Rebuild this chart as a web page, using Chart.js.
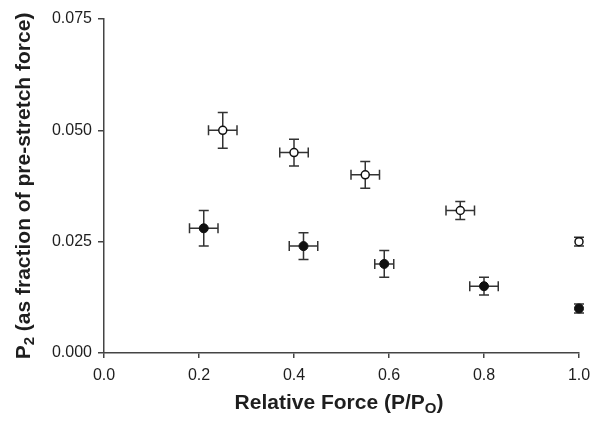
<!DOCTYPE html>
<html>
<head>
<meta charset="utf-8">
<script src="https://cdn.jsdelivr.net/npm/chart.js@4.4.1/dist/chart.umd.min.js"></script>
<style>
  html, body { margin: 0; padding: 0; background: #fff; }
  #wrap { width: 600px; height: 421px; }
</style>
</head>
<body>
<div id="wrap"><canvas id="forceChart"></canvas></div>
<script>
// open circles
const xOpen = [0.25, 0.40, 0.55, 0.75, 1.00];
const yOpen = [0.050, 0.045, 0.040, 0.032, 0.025];
const xErrOpen = [0.03, 0.03, 0.03, 0.03, 0];
const yErrOpen = [0.004, 0.003, 0.003, 0.002, 0.001];
// filled circles
const xFilled = [0.21, 0.42, 0.59, 0.80, 1.00];
const yFilled = [0.028, 0.024, 0.020, 0.015, 0.010];
const xErrFilled = [0.03, 0.03, 0.02, 0.03, 0];
const yErrFilled = [0.004, 0.003, 0.003, 0.002, 0.001];

const xTicks = [0.0, 0.2, 0.4, 0.6, 0.8, 1.0];
const yTicks = [0.000, 0.025, 0.050, 0.075];

const FONT = '"Liberation Sans", Arial, sans-serif';
const INK = '#1e1e1e';

function toPoints(xs, ys, xe, ye) {
    return xs.map((x, i) => ({ x: x, y: ys[i], xErr: xe[i], yErr: ye[i] }));
}

// error bars, drawn under the markers
const errorBars = {
    id: 'errorBars',
    beforeDatasetsDraw(chart) {
        const ctx = chart.ctx;
        const xs = chart.scales.x, ys = chart.scales.y;
        const cap = 5;
        ctx.save();
        ctx.strokeStyle = '#333';
        ctx.lineWidth = 1.5;
        chart.data.datasets.forEach(ds => {
            ds.data.forEach(p => {
                const cx = xs.getPixelForValue(p.x), cy = ys.getPixelForValue(p.y);
                ctx.beginPath();
                if (p.yErr) {
                    const t = ys.getPixelForValue(p.y + p.yErr), b = ys.getPixelForValue(p.y - p.yErr);
                    ctx.moveTo(cx, t); ctx.lineTo(cx, b);
                    ctx.moveTo(cx - cap, t); ctx.lineTo(cx + cap, t);
                    ctx.moveTo(cx - cap, b); ctx.lineTo(cx + cap, b);
                }
                if (p.xErr) {
                    const l = xs.getPixelForValue(p.x - p.xErr), r = xs.getPixelForValue(p.x + p.xErr);
                    ctx.moveTo(l, cy); ctx.lineTo(r, cy);
                    ctx.moveTo(l, cy - cap); ctx.lineTo(l, cy + cap);
                    ctx.moveTo(r, cy - cap); ctx.lineTo(r, cy + cap);
                }
                ctx.stroke();
            });
        });
        ctx.restore();
    }
};

// axis titles with subscripts
function drawParts(ctx, parts, x, y, size) {
    const big = 'bold ' + size + 'px ' + FONT;
    const small = 'bold ' + Math.round(size * 0.7) + 'px ' + FONT;
    let w = 0;
    parts.forEach(p => { ctx.font = p.sub ? small : big; w += ctx.measureText(p.t).width; });
    let cx = x - w / 2;
    parts.forEach(p => {
        ctx.font = p.sub ? small : big;
        ctx.fillText(p.t, cx, p.sub ? y + size * 0.3 : y);
        cx += ctx.measureText(p.t).width;
    });
}

const axisTitles = {
    id: 'axisTitles',
    afterDraw(chart) {
        const ctx = chart.ctx;
        ctx.save();
        ctx.fillStyle = INK;
        ctx.textBaseline = 'middle';
        ctx.textAlign = 'left';
        drawParts(ctx, [{ t: 'Relative Force (P/P' }, { t: 'O', sub: true }, { t: ')' }], 339, 403, 21);
        ctx.translate(24, 186);
        ctx.rotate(-Math.PI / 2);
        drawParts(ctx, [{ t: 'P' }, { t: '2', sub: true }, { t: ' (as fraction of pre-stretch force)' }], 0, 0, 21);
        ctx.restore();
    }
};

new Chart(document.getElementById('forceChart'), {
    type: 'scatter',
    data: {
        datasets: [{
            label: 'open',
            data: toPoints(xOpen, yOpen, xErrOpen, yErrOpen),
            clip: false,
            pointStyle: 'circle',
            pointRadius: 4,
            pointBackgroundColor: '#fff',
            pointBorderColor: '#111',
            pointBorderWidth: 1.5
        }, {
            label: 'filled',
            data: toPoints(xFilled, yFilled, xErrFilled, yErrFilled),
            clip: false,
            pointStyle: 'circle',
            pointRadius: 4.5,
            pointBackgroundColor: '#111',
            pointBorderColor: '#111',
            pointBorderWidth: 1
        }]
    },
    options: {
        responsive: true,
        maintainAspectRatio: false,
        animation: false,
        layout: { padding: { top: 19, right: 21, left: 0, bottom: 0 } },
        plugins: {
            legend: { display: false },
            tooltip: { enabled: false }
        },
        scales: {
            x: {
                min: 0, max: 1,
                afterFit: s => { s.height = 68; },
                afterBuildTicks: s => { s.ticks = xTicks.map(v => ({ value: v })); },
                grid: { drawOnChartArea: false, drawTicks: true, tickLength: 5, color: '#444', lineWidth: 1.5 },
                border: { color: '#444', width: 1.5 },
                ticks: { color: INK, font: { family: FONT, size: 16 }, padding: 8, maxRotation: 0,
                         callback: v => Number(v).toFixed(1) }
            },
            y: {
                min: 0, max: 0.075,
                afterFit: s => { s.width = 104; },
                afterBuildTicks: s => { s.ticks = yTicks.map(v => ({ value: v })); },
                grid: { drawOnChartArea: false, drawTicks: true, tickLength: 6, color: '#444', lineWidth: 1.5 },
                border: { color: '#444', width: 1.5 },
                ticks: { color: INK, font: { family: FONT, size: 16 }, padding: 6,
                         callback: v => Number(v).toFixed(3) }
            }
        }
    },
    plugins: [errorBars, axisTitles]
});
</script>
</body>
</html>
